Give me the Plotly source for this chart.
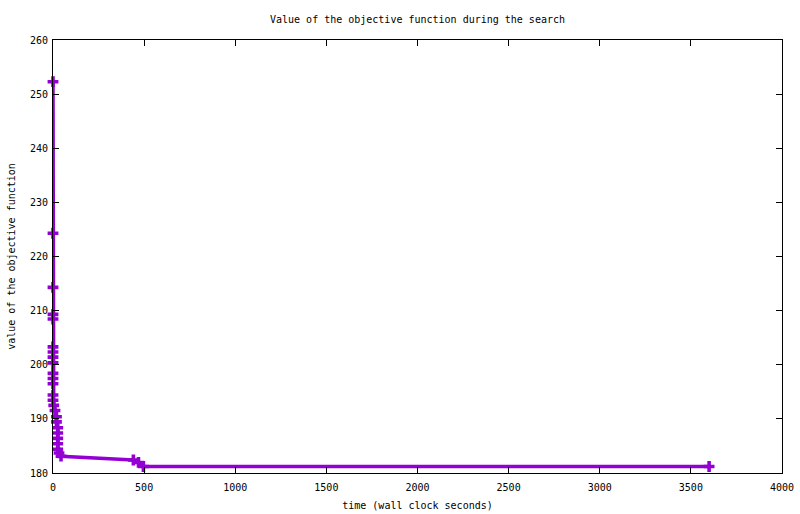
import plotly.graph_objects as go

# time (wall clock seconds) and objective value
time_s = [0, 0, 0, 0, 0, 0, 0, 0, 0, 0, 0, 0, 0, 0,
          4, 11, 19, 19, 26, 26, 26, 26, 26, 33, 44,
          441, 469, 496, 3600]
objective = [252.3, 224.3, 214.3, 209.3, 208.45, 203.3, 202.35, 201.4, 200.35,
             198.4, 197.45, 196.5, 194.4, 193.45,
             192.5, 191.55, 190.4, 189.45, 188.35, 187.4, 186.4, 185.4, 184.4,
             183.7, 183.1,
             182.4, 181.95, 181.2, 181.2]

x_ticks = [0, 500, 1000, 1500, 2000, 2500, 3000, 3500, 4000]
y_ticks = [180, 190, 200, 210, 220, 230, 240, 250, 260]

FONT = "DejaVu Sans Mono"
COLOR = "#9400D3"

fig = go.Figure()
fig.add_trace(go.Scatter(
    x=time_s, y=objective, mode="lines+markers",
    line=dict(color=COLOR, width=3.5),
    marker=dict(symbol="cross", size=9, color=COLOR, line=dict(width=0)),
    showlegend=False, cliponaxis=False,
))

axis_common = dict(
    showline=True, linecolor="black", linewidth=1, mirror="ticks",
    ticks="inside", ticklen=6, tickcolor="black", tickwidth=1,
    showgrid=False, zeroline=False, automargin=False,
    tickfont=dict(family=FONT, size=10, color="black"),
)

fig.update_layout(
    width=800, height=514,
    margin=dict(l=53, r=18, t=40, b=41),
    paper_bgcolor="white", plot_bgcolor="white",
    title=dict(text="Value of the objective function during the search",
               font=dict(family=FONT, size=10, color="black"),
               x=(53 + 782) / 2 / 800, xanchor="center",
               yref="container", y=1 - 19 / 514, yanchor="middle",
               automargin=False),
    xaxis=dict(range=[0, 4000], tickvals=x_ticks, ticktext=[str(v) for v in x_ticks],
               ticklabelstandoff=5,
               title=dict(text="time (wall clock seconds)", standoff=9,
                          font=dict(family=FONT, size=10, color="black")),
               **axis_common),
    yaxis=dict(range=[180, 260], tickvals=y_ticks, ticktext=[str(v) for v in y_ticks],
               ticklabelstandoff=2,
               title=dict(text="value of the objective function", standoff=12,
                          font=dict(family=FONT, size=10, color="black")),
               **axis_common),
)

fig.write_html("out.html", config={"displayModeBar": False},
               post_script="document.body.style.margin='0';document.body.style.overflow='hidden';")
